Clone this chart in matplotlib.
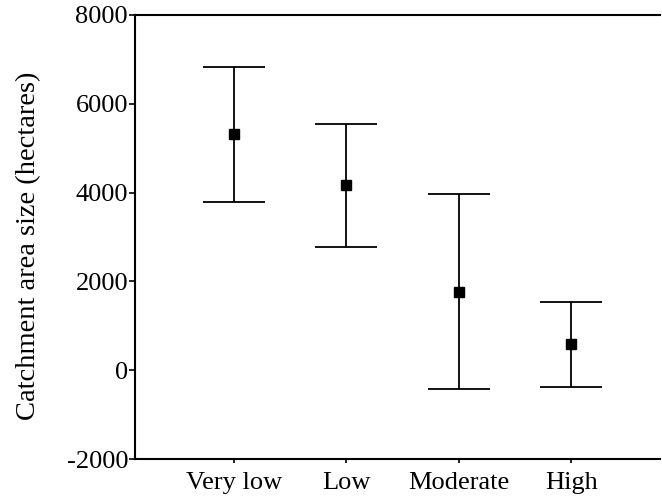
import matplotlib
matplotlib.use('Agg')
import matplotlib.pyplot as plt
import numpy as np

plt.rcParams['font.family'] = ['Liberation Serif', 'DejaVu Serif']
plt.rcParams['axes.unicode_minus'] = False

categories = ['Very low', 'Low', 'Moderate', 'High']
means = [5320, 4170, 1760, 590]
upper = [6830, 5545, 3968, 1540]
lower = [3790, 2775, -430, -385]

x = np.arange(1, len(categories) + 1)
yerr = [np.array(means) - np.array(lower), np.array(upper) - np.array(means)]

fig = plt.figure(figsize=(6.62, 4.99), dpi=100)
ax = fig.add_axes([0.204, 0.080, 0.793, 0.890])

ax.errorbar(x, means, yerr=yerr, fmt='s', color='black', ecolor='black',
            markersize=6.5, elinewidth=1.3, capsize=22, capthick=1.3)

ax.set_xlim(0.12, 4.79)
ax.set_ylim(-2000, 8000)
ax.set_yticks([-2000, 0, 2000, 4000, 6000, 8000])
ax.set_xticks(x)
ax.set_xticklabels(categories)
ax.set_ylabel('Catchment area size (hectares)', fontsize=20.5)
ax.yaxis.set_label_coords(-0.178, 0.48)

ax.tick_params(axis='both', labelsize=19, direction='out', width=1.2)
ax.tick_params(axis='y', length=4, pad=1)
ax.tick_params(axis='x', length=3, pad=6)

ax.spines['right'].set_visible(False)
for s in ['left', 'bottom', 'top']:
    ax.spines[s].set_linewidth(1.5)

fig.savefig('out.png', dpi=100)
